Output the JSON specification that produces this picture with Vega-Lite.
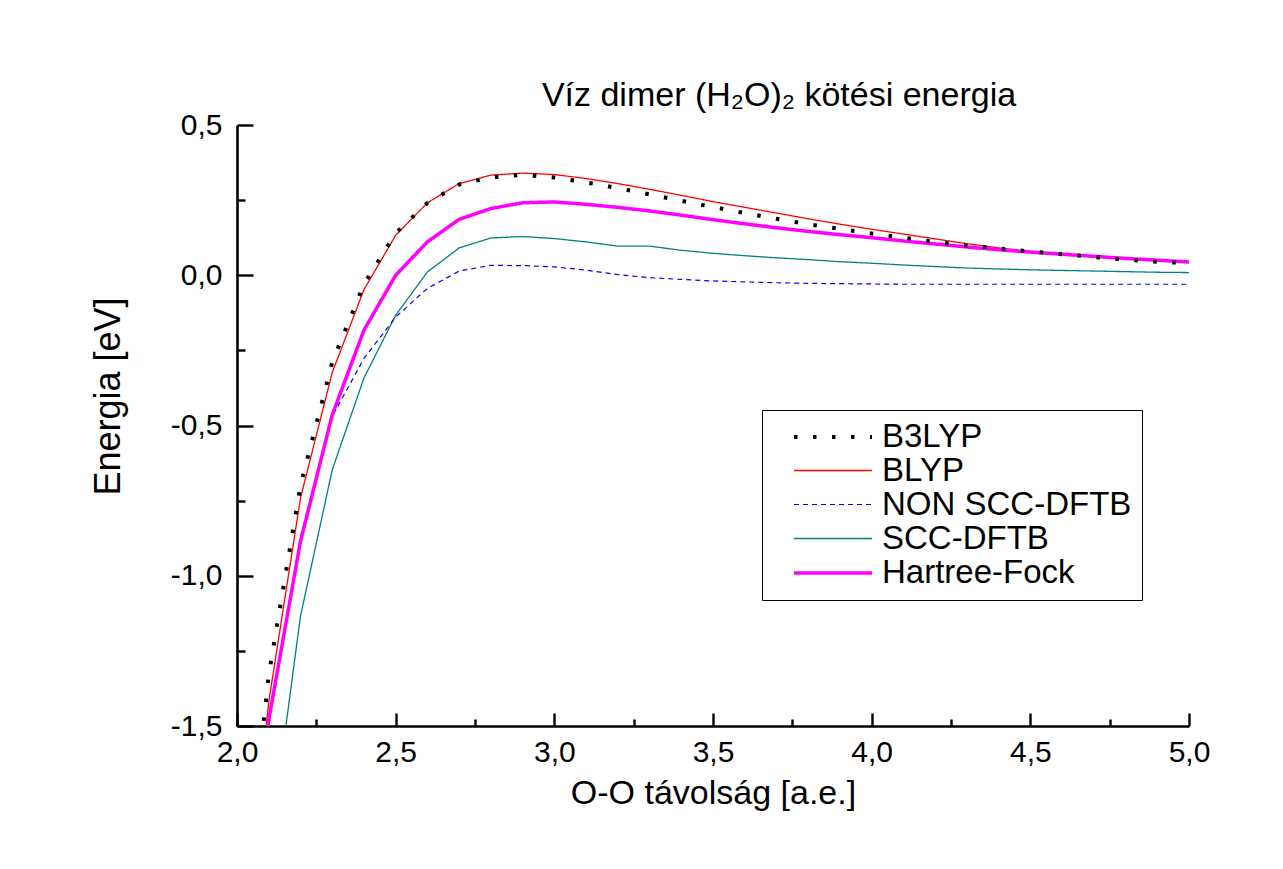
{
  "$schema": "https://vega.github.io/schema/vega-lite/v6.json",
  "autosize": {"type": "none"},
  "padding": {"left": 237, "top": 125, "right": 94, "bottom": 143},
  "width": 952,
  "height": 601,
  "background": "white",
  "config": {
    "font": "Liberation Sans",
    "view": {"stroke": null},
    "axis": {"grid": false, "domainColor": "black", "domainWidth": 2.6, "tickColor": "black", "tickWidth": 2.4, "labelColor": "black", "titleColor": "black", "labelFont": "Liberation Sans", "titleFont": "Liberation Sans", "titleFontWeight": "normal"}
  },
  "title": {"text": "Víz dimer (H₂O)₂ kötési energia", "fontSize": 34, "fontWeight": "normal", "font": "Liberation Sans", "color": "black", "anchor": "middle", "dx": 66, "offset": -30, "baseline": "alphabetic"},
  "data": {"values": [
    {"x": 2.0, "s": "SCC-DFTB", "y": -2.8}, {"x": 2.1, "s": "SCC-DFTB", "y": -1.93}, {"x": 2.2, "s": "SCC-DFTB", "y": -1.135}, {"x": 2.3, "s": "SCC-DFTB", "y": -0.648}, {"x": 2.4, "s": "SCC-DFTB", "y": -0.342}, {"x": 2.5, "s": "SCC-DFTB", "y": -0.133}, {"x": 2.6, "s": "SCC-DFTB", "y": 0.011}, {"x": 2.7, "s": "SCC-DFTB", "y": 0.091}, {"x": 2.8, "s": "SCC-DFTB", "y": 0.124}, {"x": 2.9, "s": "SCC-DFTB", "y": 0.129}, {"x": 3.0, "s": "SCC-DFTB", "y": 0.122}, {"x": 3.1, "s": "SCC-DFTB", "y": 0.111}, {"x": 3.2, "s": "SCC-DFTB", "y": 0.097}, {"x": 3.3, "s": "SCC-DFTB", "y": 0.097}, {"x": 3.4, "s": "SCC-DFTB", "y": 0.083}, {"x": 3.5, "s": "SCC-DFTB", "y": 0.073}, {"x": 3.6, "s": "SCC-DFTB", "y": 0.065}, {"x": 3.7, "s": "SCC-DFTB", "y": 0.058}, {"x": 3.8, "s": "SCC-DFTB", "y": 0.052}, {"x": 3.9, "s": "SCC-DFTB", "y": 0.045}, {"x": 4.0, "s": "SCC-DFTB", "y": 0.04}, {"x": 4.1, "s": "SCC-DFTB", "y": 0.034}, {"x": 4.2, "s": "SCC-DFTB", "y": 0.029}, {"x": 4.3, "s": "SCC-DFTB", "y": 0.024}, {"x": 4.4, "s": "SCC-DFTB", "y": 0.021}, {"x": 4.5, "s": "SCC-DFTB", "y": 0.018}, {"x": 4.6, "s": "SCC-DFTB", "y": 0.016}, {"x": 4.7, "s": "SCC-DFTB", "y": 0.014}, {"x": 4.8, "s": "SCC-DFTB", "y": 0.012}, {"x": 4.9, "s": "SCC-DFTB", "y": 0.01}, {"x": 5.0, "s": "SCC-DFTB", "y": 0.009},
    {"x": 2.0, "s": "NON SCC-DFTB", "y": -2.5}, {"x": 2.1, "s": "NON SCC-DFTB", "y": -1.5}, {"x": 2.2, "s": "NON SCC-DFTB", "y": -0.87}, {"x": 2.3, "s": "NON SCC-DFTB", "y": -0.47}, {"x": 2.4, "s": "NON SCC-DFTB", "y": -0.277}, {"x": 2.5, "s": "NON SCC-DFTB", "y": -0.139}, {"x": 2.6, "s": "NON SCC-DFTB", "y": -0.044}, {"x": 2.7, "s": "NON SCC-DFTB", "y": 0.014}, {"x": 2.8, "s": "NON SCC-DFTB", "y": 0.033}, {"x": 2.9, "s": "NON SCC-DFTB", "y": 0.032}, {"x": 3.0, "s": "NON SCC-DFTB", "y": 0.028}, {"x": 3.1, "s": "NON SCC-DFTB", "y": 0.017}, {"x": 3.2, "s": "NON SCC-DFTB", "y": 0.002}, {"x": 3.3, "s": "NON SCC-DFTB", "y": -0.008}, {"x": 3.4, "s": "NON SCC-DFTB", "y": -0.014}, {"x": 3.5, "s": "NON SCC-DFTB", "y": -0.019}, {"x": 3.6, "s": "NON SCC-DFTB", "y": -0.022}, {"x": 3.7, "s": "NON SCC-DFTB", "y": -0.025}, {"x": 3.8, "s": "NON SCC-DFTB", "y": -0.027}, {"x": 3.9, "s": "NON SCC-DFTB", "y": -0.028}, {"x": 4.0, "s": "NON SCC-DFTB", "y": -0.029}, {"x": 4.1, "s": "NON SCC-DFTB", "y": -0.03}, {"x": 4.2, "s": "NON SCC-DFTB", "y": -0.03}, {"x": 4.3, "s": "NON SCC-DFTB", "y": -0.03}, {"x": 4.4, "s": "NON SCC-DFTB", "y": -0.03}, {"x": 4.5, "s": "NON SCC-DFTB", "y": -0.03}, {"x": 4.6, "s": "NON SCC-DFTB", "y": -0.03}, {"x": 4.7, "s": "NON SCC-DFTB", "y": -0.03}, {"x": 4.8, "s": "NON SCC-DFTB", "y": -0.03}, {"x": 4.9, "s": "NON SCC-DFTB", "y": -0.03}, {"x": 5.0, "s": "NON SCC-DFTB", "y": -0.03},
    {"x": 2.0, "s": "BLYP", "y": -2.4}, {"x": 2.1, "s": "BLYP", "y": -1.42}, {"x": 2.2, "s": "BLYP", "y": -0.742}, {"x": 2.3, "s": "BLYP", "y": -0.324}, {"x": 2.4, "s": "BLYP", "y": -0.048}, {"x": 2.5, "s": "BLYP", "y": 0.133}, {"x": 2.6, "s": "BLYP", "y": 0.241}, {"x": 2.7, "s": "BLYP", "y": 0.305}, {"x": 2.8, "s": "BLYP", "y": 0.333}, {"x": 2.9, "s": "BLYP", "y": 0.34}, {"x": 3.0, "s": "BLYP", "y": 0.335}, {"x": 3.1, "s": "BLYP", "y": 0.322}, {"x": 3.2, "s": "BLYP", "y": 0.305}, {"x": 3.3, "s": "BLYP", "y": 0.286}, {"x": 3.4, "s": "BLYP", "y": 0.266}, {"x": 3.5, "s": "BLYP", "y": 0.245}, {"x": 3.6, "s": "BLYP", "y": 0.226}, {"x": 3.7, "s": "BLYP", "y": 0.207}, {"x": 3.8, "s": "BLYP", "y": 0.188}, {"x": 3.9, "s": "BLYP", "y": 0.17}, {"x": 4.0, "s": "BLYP", "y": 0.153}, {"x": 4.1, "s": "BLYP", "y": 0.137}, {"x": 4.2, "s": "BLYP", "y": 0.121}, {"x": 4.3, "s": "BLYP", "y": 0.105}, {"x": 4.4, "s": "BLYP", "y": 0.091}, {"x": 4.5, "s": "BLYP", "y": 0.079}, {"x": 4.6, "s": "BLYP", "y": 0.071}, {"x": 4.7, "s": "BLYP", "y": 0.063}, {"x": 4.8, "s": "BLYP", "y": 0.056}, {"x": 4.9, "s": "BLYP", "y": 0.05}, {"x": 5.0, "s": "BLYP", "y": 0.045},
    {"x": 2.0, "s": "Hartree-Fock", "y": -2.5}, {"x": 2.1, "s": "Hartree-Fock", "y": -1.48}, {"x": 2.2, "s": "Hartree-Fock", "y": -0.886}, {"x": 2.3, "s": "Hartree-Fock", "y": -0.465}, {"x": 2.4, "s": "Hartree-Fock", "y": -0.183}, {"x": 2.5, "s": "Hartree-Fock", "y": 0.0}, {"x": 2.6, "s": "Hartree-Fock", "y": 0.111}, {"x": 2.7, "s": "Hartree-Fock", "y": 0.186}, {"x": 2.8, "s": "Hartree-Fock", "y": 0.222}, {"x": 2.9, "s": "Hartree-Fock", "y": 0.241}, {"x": 3.0, "s": "Hartree-Fock", "y": 0.244}, {"x": 3.1, "s": "Hartree-Fock", "y": 0.236}, {"x": 3.2, "s": "Hartree-Fock", "y": 0.226}, {"x": 3.3, "s": "Hartree-Fock", "y": 0.214}, {"x": 3.4, "s": "Hartree-Fock", "y": 0.2}, {"x": 3.5, "s": "Hartree-Fock", "y": 0.185}, {"x": 3.6, "s": "Hartree-Fock", "y": 0.171}, {"x": 3.7, "s": "Hartree-Fock", "y": 0.158}, {"x": 3.8, "s": "Hartree-Fock", "y": 0.146}, {"x": 3.9, "s": "Hartree-Fock", "y": 0.135}, {"x": 4.0, "s": "Hartree-Fock", "y": 0.125}, {"x": 4.1, "s": "Hartree-Fock", "y": 0.114}, {"x": 4.2, "s": "Hartree-Fock", "y": 0.104}, {"x": 4.3, "s": "Hartree-Fock", "y": 0.094}, {"x": 4.4, "s": "Hartree-Fock", "y": 0.085}, {"x": 4.5, "s": "Hartree-Fock", "y": 0.077}, {"x": 4.6, "s": "Hartree-Fock", "y": 0.07}, {"x": 4.7, "s": "Hartree-Fock", "y": 0.063}, {"x": 4.8, "s": "Hartree-Fock", "y": 0.056}, {"x": 4.9, "s": "Hartree-Fock", "y": 0.05}, {"x": 5.0, "s": "Hartree-Fock", "y": 0.044},
    {"x": 2.0, "s": "B3LYP", "y": -2.3}, {"x": 2.1, "s": "B3LYP", "y": -1.33}, {"x": 2.2, "s": "B3LYP", "y": -0.7}, {"x": 2.3, "s": "B3LYP", "y": -0.29}, {"x": 2.4, "s": "B3LYP", "y": -0.03}, {"x": 2.5, "s": "B3LYP", "y": 0.14}, {"x": 2.6, "s": "B3LYP", "y": 0.241}, {"x": 2.7, "s": "B3LYP", "y": 0.302}, {"x": 2.8, "s": "B3LYP", "y": 0.326}, {"x": 2.9, "s": "B3LYP", "y": 0.334}, {"x": 3.0, "s": "B3LYP", "y": 0.325}, {"x": 3.1, "s": "B3LYP", "y": 0.309}, {"x": 3.2, "s": "B3LYP", "y": 0.29}, {"x": 3.3, "s": "B3LYP", "y": 0.269}, {"x": 3.4, "s": "B3LYP", "y": 0.248}, {"x": 3.5, "s": "B3LYP", "y": 0.227}, {"x": 3.6, "s": "B3LYP", "y": 0.207}, {"x": 3.7, "s": "B3LYP", "y": 0.188}, {"x": 3.8, "s": "B3LYP", "y": 0.17}, {"x": 3.9, "s": "B3LYP", "y": 0.154}, {"x": 4.0, "s": "B3LYP", "y": 0.139}, {"x": 4.1, "s": "B3LYP", "y": 0.125}, {"x": 4.2, "s": "B3LYP", "y": 0.111}, {"x": 4.3, "s": "B3LYP", "y": 0.099}, {"x": 4.4, "s": "B3LYP", "y": 0.089}, {"x": 4.5, "s": "B3LYP", "y": 0.079}, {"x": 4.6, "s": "B3LYP", "y": 0.07}, {"x": 4.7, "s": "B3LYP", "y": 0.061}, {"x": 4.8, "s": "B3LYP", "y": 0.052}, {"x": 4.9, "s": "B3LYP", "y": 0.045}, {"x": 5.0, "s": "B3LYP", "y": 0.04}
  ]},
  "mark": {"type": "line", "clip": true, "strokeJoin": "round"},
  "encoding": {
    "x": {"field": "x", "type": "quantitative", "scale": {"domain": [2, 5], "nice": false, "zero": false},
      "axis": {"title": "O-O távolság [a.e.]", "titleFontSize": 34, "titlePadding": 9, "labelFontSize": 30, "labelFlush": false, "labelPadding": 24,
        "values": [2, 2.25, 2.5, 2.75, 3, 3.25, 3.5, 3.75, 4, 4.25, 4.5, 4.75, 5],
        "tickSize": {"condition": {"test": "datum.value % 0.5 === 0", "value": -13}, "value": -7},
        "labelExpr": "datum.value % 0.5 === 0 ? replace(format(datum.value, '.1f'), '.', ',') : ''"}},
    "y": {"field": "y", "type": "quantitative", "scale": {"domain": [-1.5, 0.5], "nice": false, "zero": false},
      "axis": {"title": "Energia [eV]", "titleFontSize": 36, "labelFontSize": 30, "labelPadding": 31, "titleX": -129, "titleY": 271, "titleBaseline": "middle", "titleAngle": -90,
        "values": [-1.5, -1.25, -1, -0.75, -0.5, -0.25, 0, 0.25, 0.5],
        "tickSize": {"condition": {"test": "datum.value % 0.5 === 0", "value": -16}, "value": -8},
        "labelExpr": "datum.value % 0.5 === 0 ? replace(replace(format(datum.value, '.1f'), '.', ','), '\u2212', '-') : ''"}},
    "color": {"field": "s", "type": "nominal", "scale": {"domain": ["B3LYP", "BLYP", "NON SCC-DFTB", "SCC-DFTB", "Hartree-Fock"], "range": ["#000000", "#ff0000", "#0000ff", "#008080", "#ff00ff"]},
      "legend": {"title": null, "orient": "none", "legendX": 525, "legendY": 285, "strokeColor": "black", "padding": 10, "symbolOffset": 20, "labelFontSize": 33, "labelLimit": 600, "labelOffset": 56, "labelColor": "black", "symbolType": "M-1,0L4.2,0", "symbolSize": 900, "rowPadding": 0, "fillColor": "white"}},
    "strokeDash": {"field": "s", "type": "nominal", "scale": {"domain": ["B3LYP", "BLYP", "NON SCC-DFTB", "SCC-DFTB", "Hartree-Fock"], "range": [[3.5, 15.5], [1, 0], [5, 4], [1, 0], [1, 0]]}, "legend": {"title": null}},
    "strokeWidth": {"field": "s", "type": "nominal", "scale": {"type": "ordinal", "domain": ["B3LYP", "BLYP", "NON SCC-DFTB", "SCC-DFTB", "Hartree-Fock"], "range": [4, 1.3, 1.2, 1.3, 3.5]}, "legend": {"title": null}}
  }
}
